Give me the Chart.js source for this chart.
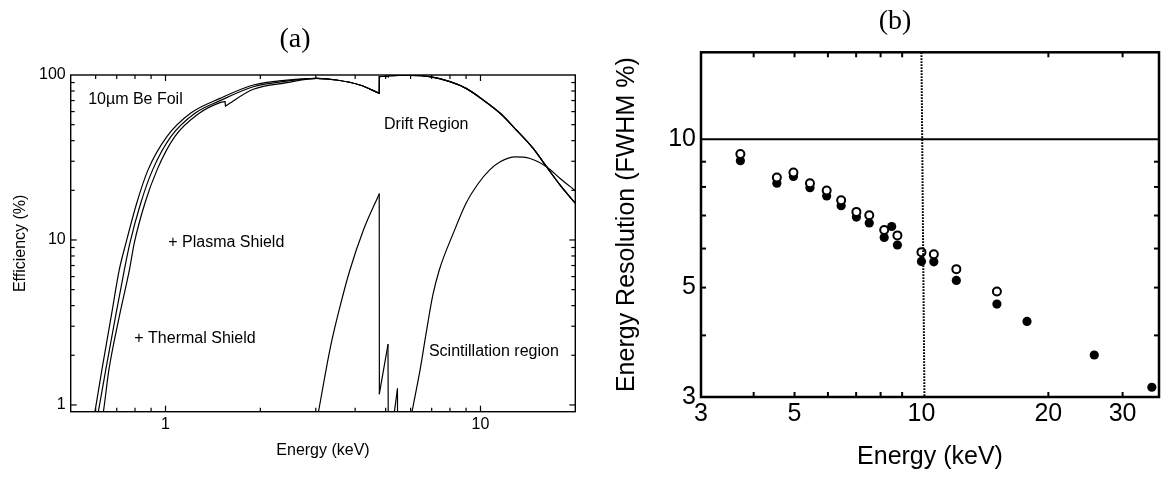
<!DOCTYPE html>
<html>
<head>
<meta charset="utf-8">
<script src="https://cdn.jsdelivr.net/npm/chart.js@4.4.1/dist/chart.umd.min.js"></script>
<style>
  body  { margin: 0; background: #fff; }
  #wrap { position: relative; width: 1165px; height: 480px; }
  #chartA { position: absolute; left: 0;     top: 0; }
  #chartB { position: absolute; left: 590px; top: 0; }
</style>
</head>
<body>
<div id="wrap">
  <canvas id="chartA" width="590" height="480"></canvas>
  <canvas id="chartB" width="575" height="480"></canvas>
</div>
<script>
// ── (a) Efficiency curves ─────────────────────────────────────
const BE_E     = [0.575, 0.597, 0.628, 0.675, 0.713, 0.749, 0.81, 0.88, 1.01, 1.20, 1.49, 1.90, 2.43, 3.02];
const BE_V     = [0.6,   0.91,  1.63,  3.6,   6.58,  9.6,   16.7, 26.6, 42.3, 58.6, 72.2, 87.0, 93.2, 95.5];
const PLASMA_E = [0.59,  0.612, 0.646, 0.697, 0.740, 0.771, 0.834, 0.91, 1.04, 1.24, 1.49, 1.90, 2.43, 3.02];
const PLASMA_V = [0.6,   0.91,  1.63,  3.6,   6.58,  9.6,   16.7,  26.6, 42.3, 58.6, 69.9, 84.9, 91.9, 95.5];
const THERM_E  = [0.61,  0.635, 0.661, 0.717, 0.768, 0.796, 0.86, 0.94, 1.07, 1.28, 1.49, 1.545, 1.55, 1.90, 2.43, 3.02];
const THERM_V  = [0.6,   0.91,  1.63,  3.6,   6.58,  9.6,   16.7, 26.6, 42.3, 58.6, 68.0, 68.9,  64.9, 81.9, 89.8, 95.5];
// shared drift-region tail above 3 keV (the three curves merge there)
const DRIFT_E  = [3.49, 4.14, 4.77, 4.775, 5.0,  5.1,  5.105, 5.5,  6.0,  6.9,  8.0,  9.0,  10.2, 11.55, 13.0, 14.7, 16.2, 17.9, 20];
const DRIFT_V  = [93.3, 87.0, 77.5, 97.7,  98.3, 97.8, 99.0,  99.3, 99.3, 97.7, 91.1, 83.0, 70.6, 58.6,  46.4, 35.9, 27.8, 21.5, 16.7];
const SCINT_E  = [2.94, 3.06, 3.34, 3.58, 3.85, 4.25, 4.77, 4.775, 5.085, 5.10, 5.33, 5.45, 5.46, 5.70, 6.06, 6.43, 6.75, 7.06, 7.4,  8.2,  9.0,  9.84, 10.7, 11.55, 12.9, 14.3, 16.2, 17.9, 20];
const SCINT_V  = [0.6,  0.91, 2.25, 3.94, 6.58, 11.5, 19.0, 1.17,  2.32,  0.5,  0.91, 1.25, 0.5,  0.5,  0.91, 1.63, 2.86, 4.64, 6.58, 11.0, 16.7, 22.0, 26.6, 29.8,  31.9, 31.3, 27.8, 23.6, 19.9];
// energies where a curve goes straight to its next point (absorption edges)
const DRIFT_EDGES = [4.77, 5.1];
const THERM_EDGES = [1.545, 4.77, 5.1];
const SCINT_EDGES = [4.77, 5.085, 5.10, 5.45, 5.46];

const A_X_LABELS = [1, 10];
const A_Y_LABELS = [1, 10, 100];
const A_X_TICKS  = [0.6, 0.7, 0.8, 0.9, 1, 2, 3, 4, 5, 6, 7, 8, 9, 10];
const A_Y_TICKS  = [1, 2, 3, 4, 5, 6, 7, 8, 9, 10, 20, 30, 40, 50, 60, 70, 80, 90];

const NOTE_TEXT = ['10\u00b5m Be Foil', '+ Plasma Shield', '+ Thermal Shield', 'Drift Region', 'Scintillation region'];
const NOTE_E    = [0.568, 1.02, 0.796, 4.94, 6.86];
const NOTE_V    = [70.7,  9.6,  2.54,  49.8, 2.10];

// ── (b) Energy resolution ─────────────────────────────────────
const OPEN_E   = [3.72, 4.54, 4.97, 5.44, 5.96, 6.45, 7.01, 7.52, 8.16, 8.77, 10.0, 10.7, 12.1, 15.1];
const OPEN_R   = [9.33, 8.36, 8.56, 8.14, 7.87, 7.52, 7.12, 7.01, 6.54, 6.38, 5.90, 5.84, 5.45, 4.91];
const FILLED_E = [3.72, 4.54, 4.97, 5.44, 5.96, 6.45, 7.01, 7.52, 8.16, 8.50, 8.77, 10.0, 10.7, 12.1, 15.1, 17.8, 25.7, 35.2];
const FILLED_R = [9.04, 8.14, 8.40, 7.97, 7.67, 7.33, 6.95, 6.76, 6.32, 6.65, 6.10, 5.65, 5.64, 5.17, 4.63, 4.27, 3.65, 3.14];

const B_X_LABELS = [3, 5, 10, 20, 30];
const B_Y_LABELS = [3, 5, 10];
const B_X_TICKS  = [4, 5, 6, 7, 8, 9, 20, 30];
const B_Y_TICKS  = [4, 5, 6, 7, 8, 9];

const SANS  = "'Liberation Sans', Arial, Helvetica, sans-serif";
const SERIF = "'Liberation Serif', 'DejaVu Serif', serif";

const pts = (xs, ys) => xs.map((x, i) => ({ x, y: ys[i] }));

// Split a series into smooth runs, with the edge jumps kept as straight steps.
function pieces(xs, ys, edges) {
  const out = [];
  let cur = [];
  xs.forEach((x, i) => {
    cur.push({ x, y: ys[i] });
    if (edges.includes(x) && i < xs.length - 1) {
      out.push(cur);
      out.push([{ x, y: ys[i] }, { x: xs[i + 1], y: ys[i + 1] }]);
      cur = [];
    }
  });
  out.push(cur);
  return out.filter(p => p.length > 1);
}

// ── plugins ───────────────────────────────────────────────────
// frame + inward ticks + reference lines, all through the scales
const frameTicks = {
  id: 'frameTicks',
  afterDatasetsDraw(chart, args, o) {
    const { ctx, chartArea: a, scales: { x, y } } = chart;
    const seg = (x1, y1, x2, y2) => { ctx.beginPath(); ctx.moveTo(x1, y1); ctx.lineTo(x2, y2); ctx.stroke(); };
    ctx.save();
    ctx.strokeStyle = '#000';

    (o.hLines || []).forEach(v => {
      ctx.lineWidth = o.hLineWidth || 1.5;
      const py = y.getPixelForValue(v);
      seg(a.left, py, a.right, py);
    });
    (o.vLines || []).forEach(v => {
      ctx.lineWidth = o.vLineWidth || 1.5;
      ctx.setLineDash([1.6, 1.4]);
      const px = x.getPixelForValue(v);
      seg(px, a.top, px + 3, a.bottom);
      ctx.setLineDash([]);
    });

    ctx.lineWidth = o.tickWidth;
    (o.xTicks || []).forEach(v => {
      const px  = x.getPixelForValue(v);
      const len = (o.xMajor || []).includes(v) ? o.majorLen : o.minorLen;
      seg(px, a.bottom, px, a.bottom - len);
      seg(px, a.top,    px, a.top + len);
    });
    (o.yTicks || []).forEach(v => {
      const py  = y.getPixelForValue(v);
      const len = (o.yMajor || []).includes(v) ? o.majorLen : o.minorLen;
      seg(a.left,  py, a.left + len,  py);
      seg(a.right, py, a.right - len, py);
    });

    ctx.lineWidth = o.frameWidth;
    ctx.strokeRect(a.left, a.top, a.right - a.left, a.bottom - a.top);
    ctx.restore();
  }
};

// text notes placed in data coordinates, plus the panel tag
const notes = {
  id: 'notes',
  afterDraw(chart, args, o) {
    const { ctx, scales: { x, y } } = chart;
    ctx.save();
    ctx.fillStyle = '#000';
    ctx.textBaseline = 'middle';
    if (o.text) {
      ctx.font = o.font;
      ctx.textAlign = 'left';
      o.text.forEach((t, i) => ctx.fillText(t, x.getPixelForValue(o.xs[i]), y.getPixelForValue(o.ys[i])));
    }
    if (o.tag) {
      ctx.font = o.tagFont;
      ctx.textAlign = 'center';
      ctx.fillText(o.tag, o.tagX, o.tagY);
    }
    ctx.restore();
  }
};

function logAxis({ min, max, labels, size, pad, fixed, horizontal, title, titlePad }) {
  return {
    type: 'logarithmic', min, max,
    grid:   { display: false, drawTicks: false, tickLength: 0 },
    border: { display: false },
    ticks: {
      color: '#000', font: { family: SANS, size }, padding: pad,
      autoSkip: false, maxRotation: 0, minRotation: 0,
      callback: v => String(v),
    },
    afterBuildTicks: s => { s.ticks = labels.map(v => ({ value: v })); },
    afterFit: s => { if (horizontal) s.height = fixed; else s.width = fixed; },
    title: { display: true, text: title, color: '#000', font: { family: SANS, size }, padding: titlePad },
  };
}

const curves = (xs, ys, edges) => pieces(xs, ys, edges).map(data => ({
  data, borderColor: '#000', borderWidth: 1.2, pointRadius: 0, fill: false,
  cubicInterpolationMode: 'monotone', borderCapStyle: 'round',
}));

// ── chart (a) ─────────────────────────────────────────────────
new Chart(document.getElementById('chartA'), {
  type: 'line',
  data: {
    datasets: [
      ...curves(BE_E.concat(DRIFT_E),     BE_V.concat(DRIFT_V),     DRIFT_EDGES),
      ...curves(PLASMA_E.concat(DRIFT_E), PLASMA_V.concat(DRIFT_V), DRIFT_EDGES),
      ...curves(THERM_E.concat(DRIFT_E),  THERM_V.concat(DRIFT_V),  THERM_EDGES),
      ...curves(SCINT_E, SCINT_V, SCINT_EDGES),
    ],
  },
  options: {
    responsive: false, devicePixelRatio: 1, animation: false,
    layout: { padding: { left: 0, right: 14.7, top: 75, bottom: 0 } },
    plugins: {
      legend: { display: false }, tooltip: { enabled: false }, title: { display: false },
      frameTicks: { xTicks: A_X_TICKS, yTicks: A_Y_TICKS, xMajor: [1, 10], yMajor: [1, 10],
                    majorLen: 6, minorLen: 4, tickWidth: 1.2, frameWidth: 1.4 },
      notes: { text: NOTE_TEXT, xs: NOTE_E, ys: NOTE_V, font: `16px ${SANS}`,
               tag: '(a)', tagFont: `28px ${SERIF}`, tagX: 295, tagY: 40 },
    },
    scales: {
      x: logAxis({ min: 0.5, max: 20, labels: A_X_LABELS, size: 16, pad: 3, fixed: 68.3, horizontal: true,
                   title: 'Energy (keV)', titlePad: { top: 0, bottom: 19.6 } }),
      y: logAxis({ min: 0.91, max: 100, labels: A_Y_LABELS, size: 16, pad: 5, fixed: 70.7, horizontal: false,
                   title: 'Efficiency (%)', titlePad: { top: 11.4, bottom: 0 } }),
    },
  },
  plugins: [frameTicks, notes],
});

// ── chart (b) ─────────────────────────────────────────────────
new Chart(document.getElementById('chartB'), {
  type: 'scatter',
  data: {
    datasets: [
      { data: pts(OPEN_E, OPEN_R), pointRadius: 4, borderWidth: 2,
        pointBackgroundColor: '#fff', pointBorderColor: '#000' },
      { data: pts(FILLED_E, FILLED_R), pointRadius: 4.6, borderWidth: 0,
        pointBackgroundColor: '#000', pointBorderColor: '#000' },
    ],
  },
  options: {
    responsive: false, devicePixelRatio: 1, animation: false,
    layout: { padding: { left: 0, right: 2, top: 52.3, bottom: 0 } },
    plugins: {
      legend: { display: false }, tooltip: { enabled: false }, title: { display: false },
      frameTicks: { xTicks: B_X_TICKS, yTicks: B_Y_TICKS, hLines: [10], vLines: [10],
                    hLineWidth: 2, vLineWidth: 2,
                    majorLen: 5, minorLen: 5, tickWidth: 2, frameWidth: 2.5 },
      notes: { tag: '(b)', tagFont: `28px ${SERIF}`, tagX: 305, tagY: 22 },
    },
    scales: {
      x: logAxis({ min: 3, max: 36.6, labels: B_X_LABELS, size: 25, pad: 2, fixed: 83, horizontal: true,
                   title: 'Energy (keV)', titlePad: { top: 0, bottom: 7.6 } }),
      y: logAxis({ min: 3, max: 15, labels: B_Y_LABELS, size: 25, pad: 5, fixed: 111, horizontal: false,
                   title: 'Energy Resolution (FWHM %)', titlePad: { top: 22, bottom: 0 } }),
    },
  },
  plugins: [frameTicks, notes],
});
</script>
</body>
</html>
